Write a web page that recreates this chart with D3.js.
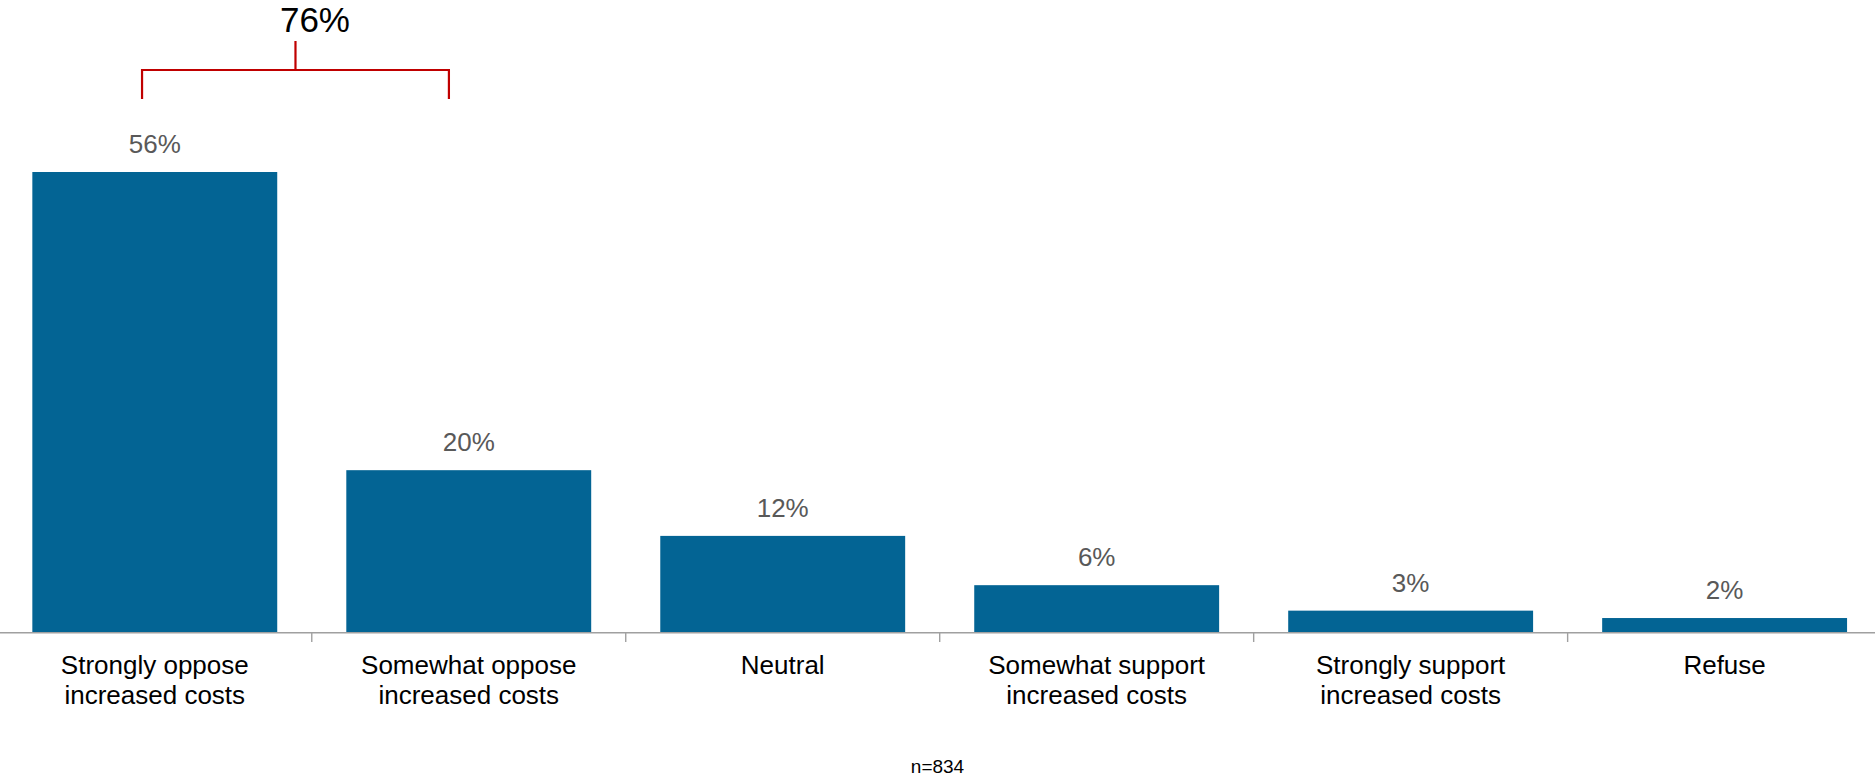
<!DOCTYPE html>
<html>
<head>
<meta charset="utf-8">
<script src="https://cdn.jsdelivr.net/npm/d3@7"></script>
<style>
  html, body { margin: 0; padding: 0; background: #fff; }
  svg { display: block; }
  text { font-family: "Liberation Sans", Arial, sans-serif; }
</style>
</head>
<body>
<svg id="chart" width="1875" height="778"></svg>
<script>
// ---- data ----
const categories = [
  "Strongly oppose\nincreased costs",
  "Somewhat oppose\nincreased costs",
  "Neutral",
  "Somewhat support\nincreased costs",
  "Strongly support\nincreased costs",
  "Refuse"
];
const values = [56, 19.7, 11.7, 5.7, 2.6, 1.7];
const bracketLabel = "76%";
const bracketCategories = [0, 1];
const footnote = "n=834";

// ---- layout ----
const W = 1875, H = 778;
const baseY = 632;
const svg = d3.select("#chart");

const x = d3.scaleBand()
  .domain(categories)
  .range([-2.2, 1881.6])
  .paddingInner(0.22)
  .paddingOuter(0.11);

const y = d3.scaleLinear().domain([0, 56]).range([baseY, 172]);

// bars
svg.append("g").selectAll("rect")
  .data(categories)
  .join("rect")
  .attr("x", d => x(d))
  .attr("width", x.bandwidth())
  .attr("y", (d, i) => y(values[i]))
  .attr("height", (d, i) => baseY - y(values[i]))
  .attr("fill", "#036494");

// value labels
svg.append("g").selectAll("text")
  .data(categories)
  .join("text")
  .attr("x", d => x(d) + x.bandwidth() / 2)
  .attr("y", (d, i) => y(values[i]) - 19)
  .attr("text-anchor", "middle")
  .attr("font-size", 26)
  .attr("fill", "#595959")
  .text((d, i) => Math.round(values[i]) + "%");

// axis line
svg.append("line")
  .attr("x1", 0).attr("x2", W)
  .attr("y1", baseY + 0.7).attr("y2", baseY + 0.7)
  .attr("stroke", "#a0a0a0").attr("stroke-width", 1.6);

// ticks between categories
const step = x.step();
const tickXs = categories.slice(1).map(c => x(c) - x.paddingInner() * step / 2);
svg.append("g").selectAll("line")
  .data(tickXs)
  .join("line")
  .attr("x1", d => d).attr("x2", d => d)
  .attr("y1", baseY).attr("y2", baseY + 10)
  .attr("stroke", "#a0a0a0").attr("stroke-width", 1.4);

// category labels
const catG = svg.append("g").selectAll("text")
  .data(categories)
  .join("text")
  .attr("x", d => x(d) + x.bandwidth() / 2)
  .attr("y", 674)
  .attr("text-anchor", "middle")
  .attr("font-size", 26)
  .attr("fill", "#000");
catG.each(function(d) {
  const t = d3.select(this);
  d.split("\n").forEach((line, j) => {
    t.append("tspan")
      .attr("x", x(d) + x.bandwidth() / 2)
      .attr("dy", j === 0 ? 0 : 30)
      .text(line);
  });
});

// bracket
const c0 = categories[bracketCategories[0]], c1 = categories[bracketCategories[1]];
const bl = x(c0) + x.bandwidth() * 0.448;
const br = x(c1) + x.bandwidth() * 0.419;
const bm = (bl + br) / 2;
const bTop = 70, bBottom = 99, stemTop = 41;
svg.append("path")
  .attr("d", `M${bl},${bBottom}V${bTop}H${br}V${bBottom}M${bm},${bTop}V${stemTop}`)
  .attr("fill", "none")
  .attr("stroke", "#c00000")
  .attr("stroke-width", 2.2);
svg.append("text")
  .attr("x", bm + 19.5)
  .attr("y", 32)
  .attr("text-anchor", "middle")
  .attr("font-size", 35)
  .attr("fill", "#000")
  .text(bracketLabel);

// footnote
svg.append("text")
  .attr("x", W / 2)
  .attr("y", 773)
  .attr("text-anchor", "middle")
  .attr("font-size", 19)
  .attr("fill", "#000")
  .text(footnote);
</script>
</body>
</html>
